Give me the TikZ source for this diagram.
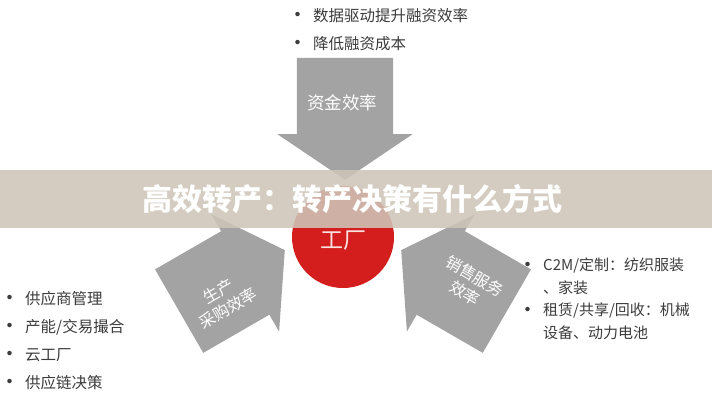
\documentclass[tikz,border=0pt]{standalone}
\usepackage{fontspec}
\newfontfamily\cjk{Noto Sans CJK SC}
\usetikzlibrary{shapes.arrows, positioning}
\definecolor{arrowgray}{RGB}{163,163,163}
\definecolor{factoryred}{RGB}{212,30,30}
\definecolor{bannerbeige}{RGB}{207,197,184}
\definecolor{listgray}{RGB}{60,60,60}
\newcommand{\dotmark}{\llap{\raisebox{-1.5pt}{\fontsize{21}{21}\selectfont •}\hspace{5pt}}}

\begin{document}
\begin{tikzpicture}[x=1pt, y=1pt,
    block/.style={single arrow, fill=arrowgray, inner xsep=0pt, inner ysep=48pt, minimum width=135pt,
      minimum height=122pt, single arrow head extend=19.5pt, single arrow tip angle=112},
    inarrow/.style={font=\cjk\fontsize{16}{20}\selectfont, text=white, align=center},
    bullets/.style={font=\cjk\fontsize{15.5}{28}\selectfont, text=listgray, align=left, inner sep=0pt, anchor=north west}]
  \useasboundingbox[fill=white] (0,0) rectangle (712,400);

  % three arrows into the factory
  \node[block, rotate=-90, anchor=tip] (fund) at (345,220) {};
  \node[block, rotate=30, anchor=tip] (prod) at (285,150) {};
  \node[block, rotate=150, anchor=tip] (sale) at (401,150) {};

  \node[circle, fill=factoryred, minimum size=102pt] (factory) at (343,163) {};
  \node[text={rgb,255:red,250;green,225;blue,225}, font=\cjk\fontsize{23}{26}\selectfont,
    below=-10pt of factory.center] (factorytext) {工厂};

  % banner
  \fill[bannerbeige, fill opacity=0.88] (0,172) rectangle (712,230);
  \node[text=white, font=\cjk\bfseries\fontsize{30}{34}\selectfont] (title) at (352,201) {高效转产：转产决策有什么方式};

  \node[inarrow, font=\cjk\fontsize{17.5}{20}\selectfont] (fundtext) at (342,297) {资金效率};
  \node[inarrow, rotate=30] (prodtext) at (223,100) {生产\\采购效率};
  \node[inarrow, rotate=-30] (saletext) at (470,115) {销售服务\\效率};

  \node[bullets] (toplist) at (313,392) {\dotmark 数据驱动提升融资效率\\\dotmark 降低融资成本};
  \node[bullets] (leftlist) at (25,109) {\dotmark 供应商管理\\\dotmark 产能/交易撮合\\\dotmark 云工厂\\\dotmark 供应链决策};
  \node[bullets, font=\cjk\fontsize{15}{22.5}\selectfont] (rightlist) at (543,142) {\dotmark C2M/定制：纺织服装\\、家装\\\dotmark 租赁/共享/回收：机械\\设备、动力电池};
\end{tikzpicture}
\end{document}
